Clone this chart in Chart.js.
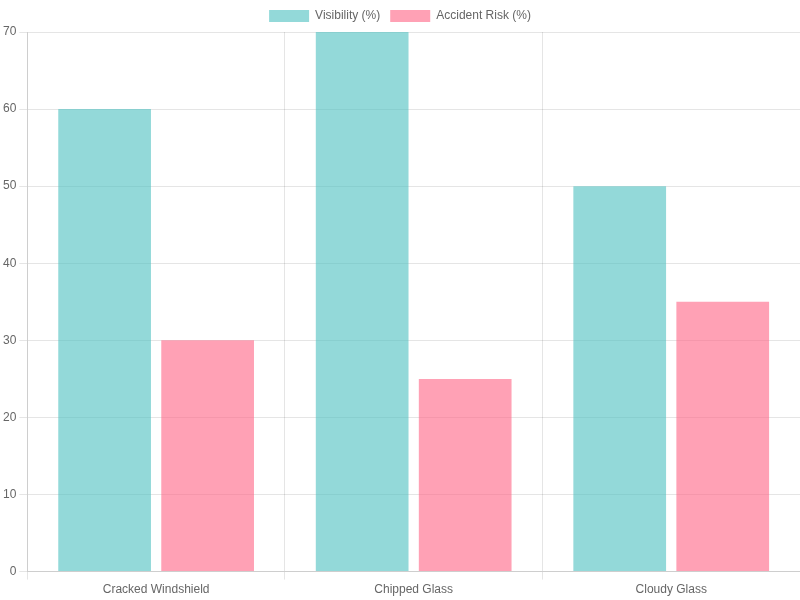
<!DOCTYPE html>
<html>
<head>
<meta charset="utf-8">
<script src="https://cdn.jsdelivr.net/npm/chart.js@4"></script>
<style>
html,body{margin:0;padding:0;background:#fff;}
#wrap{width:800px;height:600px;}
</style>
</head>
<body>
<div id="wrap"><canvas id="c"></canvas></div>
<script>
const categories = ["Cracked Windshield", "Chipped Glass", "Cloudy Glass"];
const visibility = [60, 70, 50];
const accidentRisk = [30, 25, 35];
const seriesLabels = ["Visibility (%)", "Accident Risk (%)"];

new Chart(document.getElementById('c'), {
  type: 'bar',
  data: {
    labels: categories,
    datasets: [
      { label: seriesLabels[0], data: visibility, backgroundColor: 'rgba(75, 192, 192, 0.6)' },
      { label: seriesLabels[1], data: accidentRisk, backgroundColor: 'rgba(255, 99, 132, 0.6)' }
    ]
  },
  options: {
    responsive: true,
    maintainAspectRatio: false,
    animation: false,
    scales: { y: { beginAtZero: true } }
  }
});
</script>
</body>
</html>
